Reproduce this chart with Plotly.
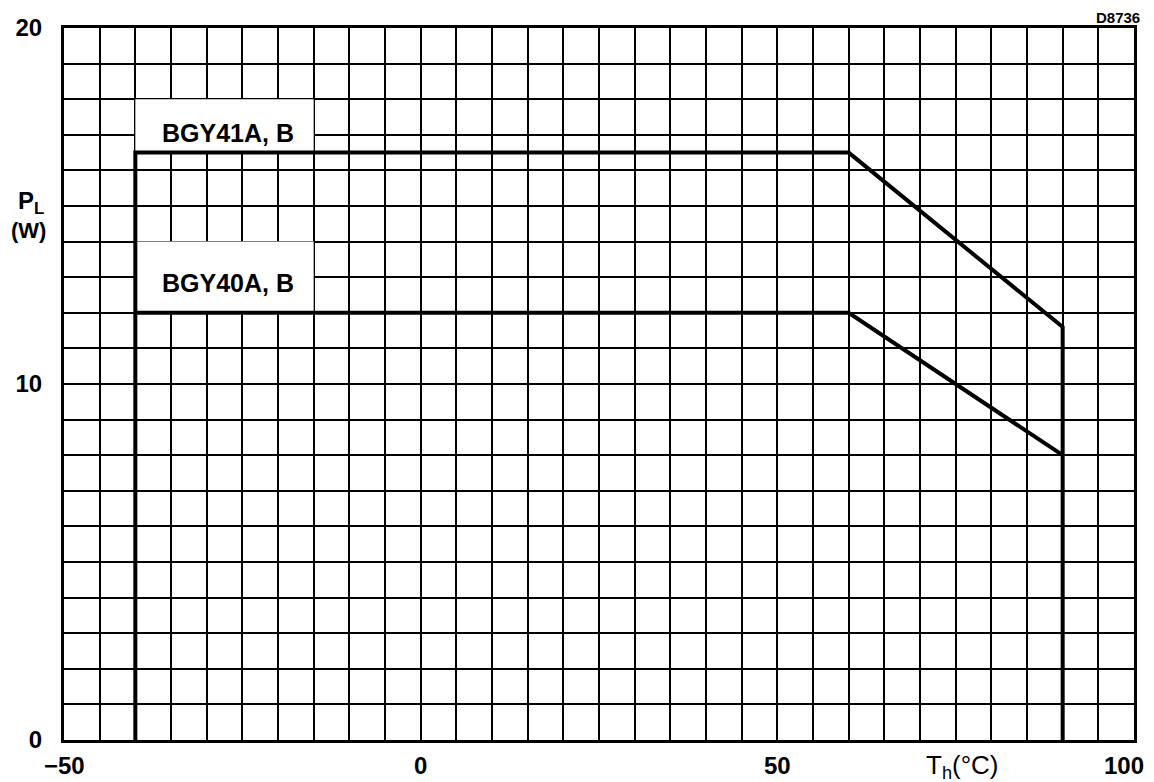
import plotly.graph_objects as go

# Data (temperature Th in °C, power PL in W)
bgy41_x = [-40, -40, 60, 90, 90]
bgy41_y = [0, 16.5, 16.5, 11.6, 0]
bgy40_x = [-40, 60, 90]
bgy40_y = [12, 12, 8]

x_ticks = [-50, 0, 50, 100]
x_tick_text = ["−50", "0", "50", "100"]
y_ticks = [0, 10, 20]

FONT = "Liberation Sans, Arial, sans-serif"

fig = go.Figure()
fig.add_trace(go.Scatter(x=bgy41_x, y=bgy41_y, mode="lines",
                         line=dict(color="black", width=4), showlegend=False,
                         name="BGY41A, B"))
fig.add_trace(go.Scatter(x=bgy40_x, y=bgy40_y, mode="lines",
                         line=dict(color="black", width=4), showlegend=False,
                         name="BGY40A, B"))

# white label boxes hiding grid lines
fig.add_shape(type="rect", x0=-40, x1=-15, y0=16.5, y1=18, layer="between",
              fillcolor="white", line=dict(width=0))
fig.add_shape(type="rect", x0=-40, x1=-15, y0=12, y1=14, layer="between",
              fillcolor="white", line=dict(width=0))

fig.add_annotation(x=-27, y=17.05, text="<b>BGY41A, B</b>", showarrow=False,
                   font=dict(family=FONT, size=25, color="black"))
fig.add_annotation(x=-27, y=12.85, text="<b>BGY40A, B</b>", showarrow=False,
                   font=dict(family=FONT, size=25, color="black"))

# x tick labels
for t, s in zip(x_ticks, x_tick_text):
    shift = -10 if t == 100 else 0
    fig.add_annotation(x=t, y=0, text="<b>%s</b>" % s, showarrow=False,
                       yanchor="top", yshift=-10, xshift=shift,
                       font=dict(family=FONT, size=24, color="black"))

fig.add_annotation(x=76, y=0, text="T<sub>h</sub>(°C)", showarrow=False,
                   yanchor="top", yshift=-8,
                   font=dict(family=FONT, size=26, color="black"))
fig.add_annotation(x=0, xref="paper", y=15.1, text="<b>P<sub>L</sub></b>", showarrow=False,
                   xanchor="right", xshift=-18,
                   font=dict(family=FONT, size=24, color="black"))
fig.add_annotation(x=0, xref="paper", y=14.3, text="<b>(W)</b>", showarrow=False,
                   xanchor="right", xshift=-16,
                   font=dict(family=FONT, size=22, color="black"))
fig.add_annotation(x=1, xref="paper", y=1, yref="paper", text="<b>D8736</b>",
                   showarrow=False, xanchor="right", yanchor="bottom", yshift=0, xshift=8,
                   font=dict(family=FONT, size=15, color="black"))

fig.update_xaxes(range=[-50, 100], tickvals=x_ticks, showticklabels=False,
                 showgrid=True, gridcolor="black", gridwidth=2,
                 minor=dict(dtick=5, showgrid=True, gridcolor="black", gridwidth=2, tick0=-50),
                 showline=True, linecolor="black", linewidth=3, mirror=True,
                 ticks="", zeroline=False, automargin=False)
fig.update_yaxes(range=[0, 20], tickvals=y_ticks,
                 showgrid=True, gridcolor="black", gridwidth=2,
                 minor=dict(dtick=1, showgrid=True, gridcolor="black", gridwidth=2, tick0=0),
                 showline=True, linecolor="black", linewidth=3, mirror=True,
                 ticks="outside", ticklen=14, tickcolor="rgba(0,0,0,0)",
                 zeroline=False, automargin=False,
                 tickfont=dict(family=FONT, size=24, color="black", weight="bold"))

# page body has an 8px default margin, so shrink the figure accordingly
fig.update_layout(width=1146, height=774, plot_bgcolor="white", paper_bgcolor="white",
                  margin=dict(l=56, r=20, t=20, b=42), showlegend=False)

fig.write_html("out.html")
